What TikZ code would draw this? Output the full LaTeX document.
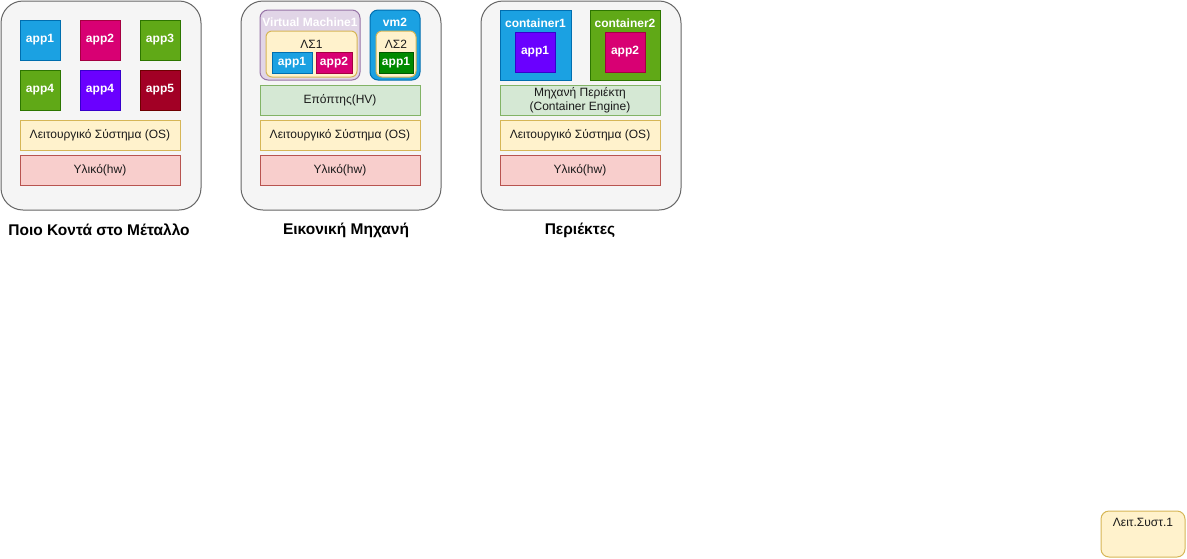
\documentclass[tikz,border=0pt]{standalone}
\usepackage{fontspec}
\setmainfont{Liberation Sans}
\definecolor{panelfill}{HTML}{F5F5F5}
\definecolor{panelline}{HTML}{666666}
\definecolor{osfill}{HTML}{FFF2CC}
\definecolor{osline}{HTML}{D6B656}
\definecolor{hwfill}{HTML}{F8CECC}
\definecolor{hwline}{HTML}{B85450}
\definecolor{hvfill}{HTML}{D5E8D4}
\definecolor{hvline}{HTML}{82B366}
\definecolor{vmfill}{HTML}{E1D5E7}
\definecolor{vmline}{HTML}{9673A6}
\definecolor{bluefill}{HTML}{1BA1E2}
\definecolor{blueline}{HTML}{006EAF}
\definecolor{magfill}{HTML}{D80073}
\definecolor{magline}{HTML}{A50040}
\definecolor{grnfill}{HTML}{60A917}
\definecolor{grnline}{HTML}{2D7600}
\definecolor{purfill}{HTML}{6A00FF}
\definecolor{purline}{HTML}{3700CC}
\definecolor{redfill}{HTML}{A20025}
\definecolor{redline}{HTML}{6F0000}
\definecolor{dgfill}{HTML}{008A00}
\definecolor{dgline}{HTML}{005700}
\definecolor{txt}{HTML}{1A1A1A}
\newcommand\bx[7]{\node[#6, minimum width=#4pt, minimum height=#5pt] (#1) at (#2,#3) {#7};}
\begin{document}
\begin{tikzpicture}[x=1pt,y=-1pt,
  box/.style={draw, line width=1pt, inner sep=0pt, outer sep=0pt, anchor=north west,
    font=\fontsize{12}{14}\selectfont, text=txt, align=center},
  panel/.style={box, fill=panelfill, draw=panelline, rounded corners=22pt},
  osbox/.style={box, fill=osfill, draw=osline},
  hwbox/.style={box, fill=hwfill, draw=hwline},
  hvbox/.style={box, fill=hvfill, draw=hvline},
  app/.style={box, text=white, font=\fontsize{12}{14}\selectfont\bfseries},
  blueapp/.style={app, fill=bluefill, draw=blueline},
  magapp/.style={app, fill=magfill, draw=magline},
  grnapp/.style={app, fill=grnfill, draw=grnline},
  purapp/.style={app, fill=purfill, draw=purline},
  redapp/.style={app, fill=redfill, draw=redline},
  dgapp/.style={app, fill=dgfill, draw=dgline},
  lbl/.style={inner sep=0pt, font=\fontsize{12}{14}\selectfont, text=txt},
  wlbl/.style={inner sep=0pt, font=\fontsize{12}{14}\selectfont\bfseries, text=white},
  title/.style={inner sep=0pt, font=\fontsize{15.5}{18}\selectfont\bfseries, text=black}
]
\useasboundingbox (0,0) rectangle (1187,558);

% Panel 1
\bx{p1}{1}{1}{200}{209}{panel}{}
\bx{a11}{20}{20}{40}{40}{blueapp}{app1}
\bx{a12}{80}{20}{40}{40}{magapp}{app2}
\bx{a13}{140}{20}{40}{40}{grnapp}{app3}
\bx{a14}{20}{70}{40}{40}{grnapp}{app4}
\bx{a15}{80}{70}{40}{40}{purapp}{app4}
\bx{a16}{140}{70}{40}{40}{redapp}{app5}
\bx{os1}{20}{120}{160}{30}{osbox}{Λειτουργικό Σύστημα (OS)}
\bx{hw1}{20}{155}{160}{30}{hwbox}{Υλικό(hw)}
\node[title] (t1) at (99,230) {Ποιο Κοντά στο Μέταλλο};

% Panel 2
\bx{p2}{241}{1}{200}{209}{panel}{}
\bx{vm1}{260}{10}{100}{70}{box, fill=vmfill, draw=vmline, rounded corners=8pt}{}
\node[wlbl] (vm1l) at (310,22) {Virtual Machine1};
\bx{ls1}{266}{31}{91}{46}{osbox, rounded corners=6pt}{}
\node[lbl] (ls1l) at (311.5,44) {ΛΣ1};
\bx{a21}{272}{52}{40}{21}{blueapp}{app1}
\bx{a22}{316}{52}{36}{21}{magapp}{app2}
\bx{vm2}{370}{10}{50}{70}{box, fill=bluefill, draw=blueline, rounded corners=8pt}{}
\node[wlbl] (vm2l) at (395,22) {vm2};
\bx{ls2}{376}{31}{40}{46}{osbox, rounded corners=6pt}{}
\node[lbl] (ls2l) at (396,44) {ΛΣ2};
\bx{a23}{379}{52}{34}{21}{dgapp}{app1}
\bx{hv2}{260}{85}{160}{30}{hvbox}{Επόπτης(HV)}
\bx{os2}{260}{120}{160}{30}{osbox}{Λειτουργικό Σύστημα (OS)}
\bx{hw2}{260}{155}{160}{30}{hwbox}{Υλικό(hw)}
\node[title] (t2) at (346,230) {Εικονική Μηχανή};

% Panel 3
\bx{p3}{481}{1}{200}{209}{panel}{}
\bx{c1}{500}{10}{71}{70}{box, fill=bluefill, draw=blueline}{}
\node[wlbl] (c1l) at (535.5,23) {container1};
\bx{a31}{515}{32}{40}{40}{purapp}{app1}
\bx{c2}{590}{10}{70}{70}{box, fill=grnfill, draw=grnline}{}
\node[wlbl] (c2l) at (625,23) {container2};
\bx{a32}{605}{32}{40}{40}{magapp}{app2}
\bx{ce3}{500}{85}{160}{30}{hvbox}{Μηχανή Περιέκτη\\(Container Engine)}
\bx{os3}{500}{120}{160}{30}{osbox}{Λειτουργικό Σύστημα (OS)}
\bx{hw3}{500}{155}{160}{30}{hwbox}{Υλικό(hw)}
\node[title] (t3) at (580,230) {Περιέκτες};

% Bottom right
\bx{ls}{1101}{511}{84}{46}{osbox, rounded corners=8pt}{}
\node[lbl] (lsl) at (1143,522) {Λειτ.Συστ.1};
\end{tikzpicture}
\end{document}
